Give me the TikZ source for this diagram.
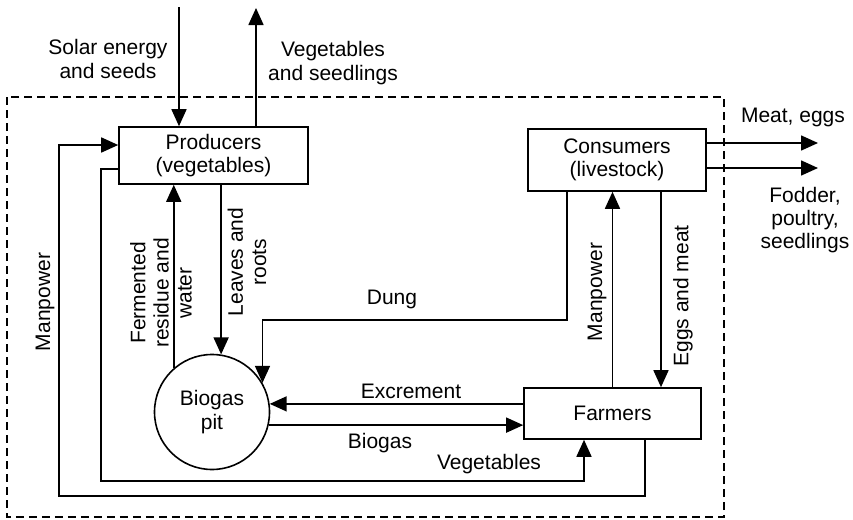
\documentclass[tikz,border=0pt]{standalone}
\usepackage{fontspec}
\setmainfont{Liberation Sans}
\usetikzlibrary{arrows.meta}

\begin{document}
\begin{tikzpicture}[x=0.5pt,y=-0.5pt,line width=0.8pt,
  font=\fontsize{10.5}{11.6}\selectfont,
  box/.style={draw,rectangle,inner sep=0pt,align=center},
  link/.style={-{Triangle[length=8.5pt,width=7.5pt]}},
  lbl/.style={align=center,inner sep=0pt}]
\useasboundingbox (0,0) rectangle (853,520);
\draw[dash pattern=on 4pt off 2.5pt] (7,97) rectangle (724,517);
% blocks
\node[box,minimum width=94.5pt,minimum height=28.5pt](prod) at(213.5,155.5) {Producers\\(vegetables)};
\node[box,minimum width=89pt,minimum height=31pt](cons) at(617,160) {Consumers\\(livestock)};
\node[box,minimum width=88.5pt,minimum height=25.5pt](farm) at(612.5,413.5) {Farmers};
\node[draw,circle,minimum size=57.5pt,inner sep=0pt,align=center](pit) at(212,412) {Biogas\\pit};
% free ends and bends
\coordinate (sun) at (179,7);
\coordinate (out) at (256,8);
\coordinate (meat) at (818,143);
\coordinate (fod) at (818,168);
\coordinate (dung) at (567,320);
\coordinate (em) at (661,300);
\coordinate (vl) at (101,481);
\coordinate (vr) at (584,481);
\coordinate (ml) at (59,496);
\coordinate (mr) at (645,496);
% flows
\draw[link] (sun) -- (sun |- prod.north);
\draw[link] (out |- prod.north) -- (out);
\draw[link] (cons.east |- meat) -- (meat);
\draw[link] (cons.east |- fod) -- (fod);
\draw[link] (cons.south -| dung) |- (pit.30 |- dung) -- (pit.30);
\draw[link] (prod.south -| pit.81) -- (pit.81);
\draw[link] (pit.131) -- (prod.south -| pit.131);
\draw[link] (farm.west |- pit.8) -- (pit.8);
\draw[link] (pit.-13) -- (farm.west |- pit.-13);
\draw[link] (farm.north) -- (farm.north |- cons.south);
\draw[link] (cons.south -| em) -- (farm.north -| em);
\draw[link] ([yshift=-6.75pt]prod.west) -| (vl) -| (farm.south -| vr);
\draw[link] (farm.south -| mr) |- (ml) |- ([yshift=5.25pt]prod.west);
% labels
\node[lbl](tsun) at(108,59) {Solar energy\\and seeds};
\node[lbl](tout) at(333,63) {Vegetables\\and seedlings};
\node[lbl](tmeat) at(793,117) {Meat, eggs};
\node[lbl](tfod) at(805,220) {Fodder,\\poultry,\\seedlings};
\node[lbl,rotate=90](tman1) at(45,302) {Manpower};
\node[lbl,rotate=90](tres) at(161,293) {Fermented\\residue and\\water};
\node[lbl,rotate=90](tleaf) at(247,262) {Leaves and\\roots};
\node[lbl](tdung) at(392,299) {Dung};
\node[lbl](texc) at(411,391) {Excrement};
\node[lbl](tgas) at(380,443) {Biogas};
\node[lbl](tveg) at(489,464) {Vegetables};
\node[lbl,rotate=90](tman2) at(597,292) {Manpower};
\node[lbl,rotate=90](tegg) at(683,296) {Eggs and meat};
\end{tikzpicture}
\end{document}
